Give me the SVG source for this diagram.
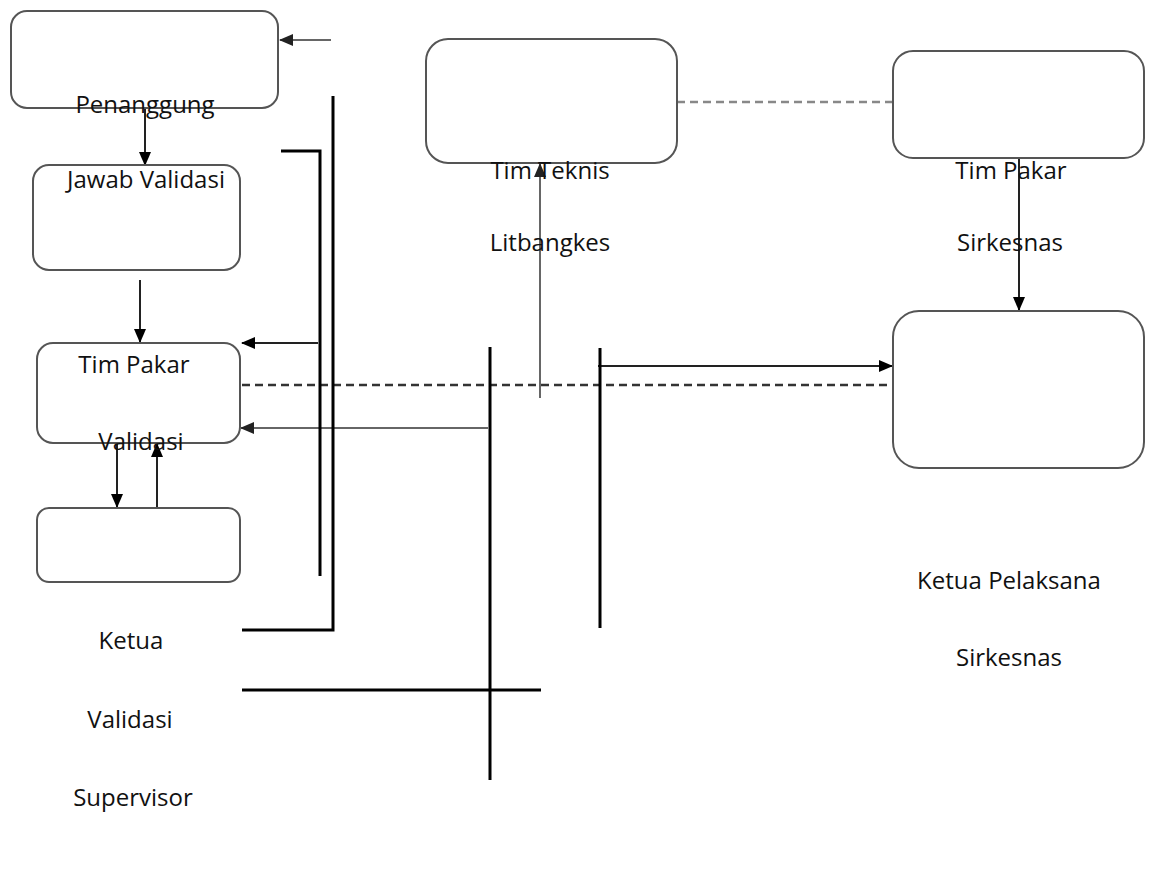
<svg xmlns="http://www.w3.org/2000/svg" width="1152" height="877" viewBox="0 0 1152 877">
<defs>
<marker id="a" markerWidth="14" markerHeight="12" refX="13" refY="6" orient="auto" markerUnits="userSpaceOnUse"><path d="M0,0 L14,6 L0,12 z" fill="#000"/></marker>
<marker id="ag" markerWidth="14" markerHeight="12" refX="13" refY="6" orient="auto" markerUnits="userSpaceOnUse"><path d="M0,0 L14,6 L0,12 z" fill="#222"/></marker>
<style>
.box{fill:#fff;stroke:#555;stroke-width:2}
.t{font-family:"Open Sans","Noto Sans",sans-serif;font-size:24px;fill:#111;text-anchor:middle}
.blk{stroke:#000;stroke-width:3;fill:none}
.ln{stroke:#222;stroke-width:2;fill:none}
.gl{stroke:#666;stroke-width:2;fill:none}
.dash{stroke:#333;stroke-width:2.5;stroke-dasharray:8,5;fill:none}
.gdash{stroke:#888;stroke-width:2.5;stroke-dasharray:8,5;fill:none}
</style>
</defs>
<rect width="1152" height="877" fill="#fff"/>
<g id="connectors">
<line class="gl" x1="331" y1="40" x2="280" y2="40" marker-end="url(#ag)"/>
<line class="ln" x1="145" y1="108" x2="145" y2="165" marker-end="url(#a)"/>
<line class="ln" x1="140" y1="280" x2="140" y2="342" marker-end="url(#a)"/>
<line class="ln" x1="318" y1="343" x2="242" y2="343" marker-end="url(#a)"/>
<line class="dash" x1="242" y1="385" x2="893" y2="385"/>
<line class="gl" x1="488" y1="428" x2="241" y2="428" marker-end="url(#ag)"/>
<line class="ln" x1="598" y1="366" x2="892" y2="366" marker-end="url(#a)"/>
<line class="gl" x1="540" y1="398" x2="540" y2="164" marker-end="url(#ag)"/>
<line class="gdash" x1="677" y1="102" x2="893" y2="102"/>
<line class="ln" x1="1019" y1="158" x2="1019" y2="310" marker-end="url(#a)"/>
<line class="ln" x1="117" y1="443" x2="117" y2="507" marker-end="url(#a)"/>
<line class="ln" x1="157" y1="508" x2="157" y2="444" marker-end="url(#a)"/>
<polyline class="blk" points="333,96 333,630 242,630"/>
<polyline class="blk" points="281,151 320,151 320,576"/>
<line class="blk" x1="490" y1="347" x2="490" y2="780"/>
<line class="blk" x1="242" y1="690" x2="541" y2="690"/>
<line class="blk" x1="600" y1="348" x2="600" y2="628"/>
</g>
<g id="penanggung-jawab"><rect class="box" x="11" y="11" width="267" height="97" rx="16"/></g>
<g id="box2"><rect class="box" x="33" y="165" width="207" height="105" rx="16"/></g>
<g id="tim-pakar-validasi"><rect class="box" x="37" y="343" width="203" height="100" rx="16"/></g>
<g id="box4"><rect class="box" x="37" y="508" width="203" height="74" rx="12"/></g>
<g id="tim-teknis"><rect class="box" x="426" y="39" width="251" height="124" rx="22"/></g>
<g id="tim-pakar-sirkesnas"><rect class="box" x="893" y="51" width="251" height="107" rx="20"/></g>
<g id="ketua-pelaksana"><rect class="box" x="893" y="311" width="251" height="157" rx="26"/></g>
<g id="labels">
<text class="t" x="145" y="113">Penanggung</text>
<text class="t" x="146" y="188">Jawab Validasi</text>
<text class="t" x="134" y="373">Tim Pakar</text>
<text class="t" x="141" y="450">Validasi</text>
<text class="t" x="131" y="649">Ketua</text>
<text class="t" x="130" y="728">Validasi</text>
<text class="t" x="133" y="806">Supervisor</text>
<text class="t" x="550" y="179">Tim Teknis</text>
<text class="t" x="550" y="251">Litbangkes</text>
<text class="t" x="1011" y="179">Tim Pakar</text>
<text class="t" x="1010" y="251">Sirkesnas</text>
<text class="t" x="1009" y="589">Ketua Pelaksana</text>
<text class="t" x="1009" y="666">Sirkesnas</text>
</g>
</svg>
